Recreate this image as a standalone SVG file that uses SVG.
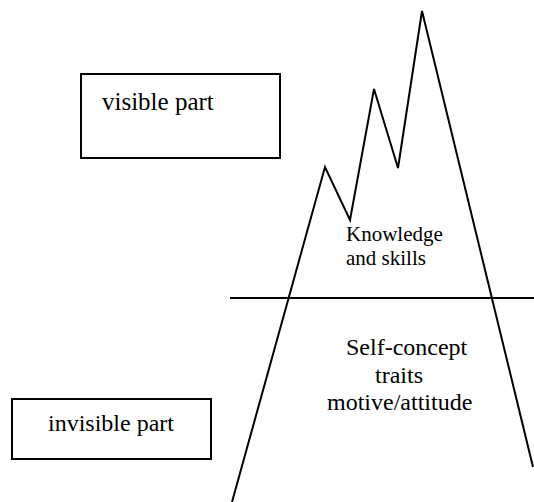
<svg xmlns="http://www.w3.org/2000/svg" width="534" height="502" viewBox="0 0 534 502">
  <style>
    .frame { fill: #fff; stroke: #000; stroke-width: 2; }
    .line { fill: none; stroke: #000; stroke-width: 2; stroke-linejoin: miter; }
    .lbl { font-family: "Liberation Serif", "Times New Roman", serif; fill: #000; }
  </style>
  <rect width="534" height="502" fill="#fff"/>

  <!-- iceberg outline and water line -->
  <g id="connectors">
    <polyline class="line" points="232,502 325,167 350,220 374,89 398,168 422,11 533,467"/>
    <line class="line" x1="230" y1="298" x2="534" y2="298"/>
  </g>

  <g id="visible-box">
    <rect class="frame" x="81" y="74" width="199" height="84"/>
    <text class="lbl" x="102" y="110" font-size="25">visible part</text>
  </g>

  <g id="invisible-box">
    <rect class="frame" x="12" y="399" width="199" height="60"/>
    <text class="lbl" x="111" y="431" font-size="24" text-anchor="middle">invisible part</text>
  </g>

  <g id="knowledge">
    <text class="lbl" x="346" y="241" font-size="21">Knowledge</text>
    <text class="lbl" x="346" y="265" font-size="21">and skills</text>
  </g>

  <g id="self-concept">
    <text class="lbl" x="346" y="355" font-size="24">Self-concept</text>
    <text class="lbl" x="375" y="383" font-size="24">traits</text>
    <text class="lbl" x="327" y="410" font-size="24">motive/attitude</text>
  </g>
</svg>
